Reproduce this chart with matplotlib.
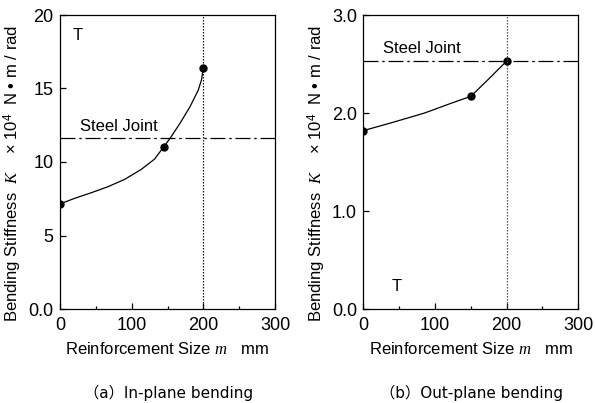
import matplotlib
matplotlib.use("Agg")
import matplotlib.pyplot as plt

plt.rcParams['font.family'] = ['Liberation Sans', 'Noto Sans CJK JP', 'DejaVu Sans']
plt.rcParams['mathtext.fontset'] = 'custom'
plt.rcParams['mathtext.it'] = 'Liberation Serif:italic'
plt.rcParams['mathtext.rm'] = 'Liberation Sans'

# ---- data ----
# (a) In-plane bending
a_pts_x = [0, 145, 200]
a_pts_y = [7.15, 11.05, 16.4]
a_curve_x = [0, 20.5, 43.7, 67, 90.3, 113.5, 132, 145, 153.5, 167.4, 181.4, 193, 197.5, 200]
a_curve_y = [7.15, 7.53, 7.91, 8.32, 8.82, 9.5, 10.2, 11.05, 11.6, 12.63, 13.76, 14.9, 15.6, 16.4]
a_steel = 11.6
a_yticks = [0, 5, 10, 15, 20]
a_yticklabels = ['0.0', '5', '10', '15', '20']

# (b) Out-plane bending
b_pts_x = [0, 150, 200]
b_pts_y = [1.82, 2.17, 2.53]
b_curve_x = [0, 39, 85.6, 122.8, 150, 174, 200]
b_curve_y = [1.82, 1.90, 2.00, 2.10, 2.17, 2.34, 2.53]
b_steel = 2.53
b_yticks = [0, 1, 2, 3]
b_yticklabels = ['0.0', '1.0', '2.0', '3.0']

xticks = [0, 100, 200, 300]
xminor = [50, 150, 250]
limit_x = 200

xlabel = "Reinforcement Size $m$   mm"
ylabel = "Bending Stiffness  $K$    × 10$^{4}$  N • m / rad"

fig = plt.figure(figsize=(5.95, 4.03), dpi=100)
W, H = 595, 403

def make_ax(left_px, ylim, yticks, yticklabels, cx, cy, px, py, steel,
            t_pos, sj_pos, caption, cap_x, vcolor):
    ax = fig.add_axes([left_px / W, (H - 309) / H, 215 / W, 294 / H])
    ax.plot(cx, cy, color='black', lw=0.9)
    ax.plot(px, py, 'o', color='black', ms=5)
    ax.axhline(steel, color='black', lw=0.9, dashes=(12, 3, 2, 3))
    ax.axvline(limit_x, color=vcolor, lw=0.9, ls=(0, (1.1, 1.3)))
    ax.set_xlim(0, 300)
    ax.set_ylim(*ylim)
    ax.set_xticks(xticks)
    ax.set_xticks(xminor, minor=True)
    ax.set_yticks(yticks)
    ax.set_yticklabels(yticklabels)
    ax.tick_params(which='both', direction='in', labelsize=13)
    ax.tick_params(which='major', length=4, width=0.9)
    ax.tick_params(which='minor', length=2.5, width=0.9)
    ax.tick_params(axis='x', pad=6)
    ax.tick_params(axis='y', pad=4.5)
    for s in ax.spines.values():
        s.set_linewidth(0.9)
    ax.set_xlabel(xlabel, fontsize=12, labelpad=5)
    ax.set_ylabel(ylabel, fontsize=12)
    ax.yaxis.set_label_coords(-0.166, 0.4626)
    ax.text(t_pos[0], t_pos[1], 'T', fontsize=12, ha='center', va='center')
    ax.text(sj_pos[0], sj_pos[1], 'Steel Joint', fontsize=12, ha='left', va='center')
    fig.text(cap_x / W, 1 - 393 / H, caption, fontsize=11, ha='center', va='center',
             family=['DejaVu Sans', 'Noto Sans CJK JP'])
    return ax

make_ax(60, (0, 20), a_yticks, a_yticklabels, a_curve_x, a_curve_y, a_pts_x, a_pts_y,
        a_steel, (24, 18.6), (28, 12.4), "（a）In-plane bending", 169, 'black')
make_ax(363.3, (0, 3), b_yticks, b_yticklabels, b_curve_x, b_curve_y, b_pts_x, b_pts_y,
        b_steel, (46, 0.23), (28, 2.66), "（b）Out-plane bending", 471, '#444444')

fig.savefig("out.png", dpi=100)
